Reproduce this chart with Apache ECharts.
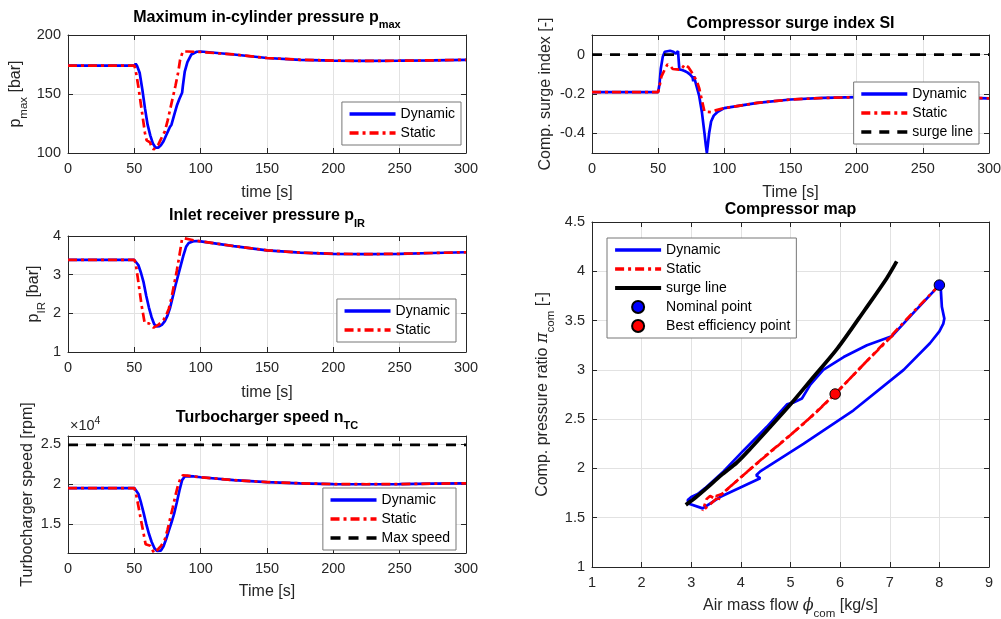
<!DOCTYPE html>
<html><head><meta charset="utf-8">
<script src="https://cdn.jsdelivr.net/npm/echarts@6/dist/echarts.min.js"></script>
<style>html,body{margin:0;padding:0;background:#fff}#c{width:1001px;height:619px}</style>
</head><body><div id="c"></div>
<script>
// ---------------- DATA ----------------
// Panel 1: maximum in-cylinder pressure p_max [bar]
const pmaxDynT = [0, 50, 51, 52, 54, 56, 58, 60, 62, 64, 66, 68, 70, 72, 74, 76, 76.8, 77.4, 78, 80, 82, 84, 86, 86.6, 88, 90, 93, 97, 100, 125, 150, 175, 200, 225, 250, 275, 300];
const pmaxDynV = [174, 174, 175.7, 174, 168, 154, 138, 124, 115, 108, 104.5, 104.5, 106.5, 110, 115, 120, 122, 120.5, 124, 132, 140, 146, 151, 157, 169, 177, 183.5, 185.8, 186, 183.5, 180.5, 179, 178.3, 178, 178.2, 178.5, 179];
const pmaxStaT = [0, 50, 51, 53, 55.5, 58, 59.3, 61.8, 63, 64.5, 66, 68, 69.5, 71, 73, 75, 77, 79, 81, 83, 84.5, 86.5, 90, 95, 100, 125, 150, 175, 200, 225, 250, 275, 300];
const pmaxStaV = [174, 174, 170, 156.5, 136.7, 117, 110.7, 109, 105, 103, 103.5, 107, 110.5, 112, 118.4, 127, 137, 147, 157, 168, 179, 186, 186, 185.8, 185.6, 183.5, 180.5, 179, 178.3, 178, 178.2, 178.5, 179];

// Panel 2: inlet receiver pressure p_IR [bar]
const pirDynT = [0, 50, 51, 53, 55, 57, 59, 61, 63, 65, 67, 69, 71, 73, 75, 77, 79, 81, 83, 85, 87, 89, 91, 94, 97, 100, 125, 150, 175, 200, 225, 250, 275, 300];
const pirDynV = [3.38, 3.38, 3.37, 3.25, 3.05, 2.80, 2.45, 2.15, 1.90, 1.72, 1.66, 1.67, 1.71, 1.80, 1.94, 2.15, 2.43, 2.72, 2.98, 3.24, 3.5, 3.72, 3.82, 3.86, 3.87, 3.86, 3.74, 3.63, 3.57, 3.54, 3.53, 3.54, 3.56, 3.58];
const pirStaT = [0, 50, 51, 53, 55.5, 57.8, 59, 61, 62.5, 64.5, 66, 68, 70, 72, 74, 76, 78, 80, 82, 84, 86, 88, 92, 96, 100, 125, 150, 175, 200, 225, 250, 275, 300];
const pirStaV = [3.38, 3.38, 3.3, 2.82, 2.2, 1.75, 1.73, 1.74, 1.72, 1.63, 1.64, 1.7, 1.76, 1.83, 1.95, 2.12, 2.4, 2.75, 3.1, 3.5, 3.93, 3.94, 3.91, 3.88, 3.86, 3.74, 3.63, 3.57, 3.54, 3.53, 3.54, 3.56, 3.58];

// Panel 3: turbocharger speed n_TC [rpm]
const ntcDynT = [0, 50, 51, 53, 55, 57, 59, 61, 63, 65, 67, 68, 70, 72, 74, 76, 78, 80, 82, 84, 86, 88, 90, 95, 100, 125, 150, 175, 200, 225, 250, 275, 300];
const ntcDynV = [19500, 19500, 19450, 18800, 17700, 16400, 15000, 13800, 12800, 12050, 11650, 11570, 11700, 12250, 13150, 14200, 15200, 16300, 17700, 19200, 20500, 20950, 21000, 20950, 20850, 20500, 20250, 20100, 20000, 19980, 20000, 20050, 20100];
const ntcStaT = [0, 50, 51, 53, 55, 57, 58.5, 60, 62, 63.5, 65, 66.5, 68, 70, 71, 73, 75, 77, 79, 81, 83, 85, 86.5, 90, 95, 100, 125, 150, 175, 200, 225, 250, 275, 300];
const ntcStaV = [19500, 19500, 19000, 17300, 15500, 13800, 12500, 12350, 12300, 11800, 11400, 11450, 11900, 12250, 12400, 13100, 14300, 15700, 17100, 18600, 19900, 20800, 21100, 21050, 20950, 20850, 20500, 20250, 20100, 20000, 19980, 20000, 20050, 20100];
const maxSpeedT = [0, 300];
const maxSpeedV = [24900, 24900];

// Panel 4: compressor surge index SI [-]
const siDynT = [0, 50, 51, 52, 53.5, 55, 56.5, 59, 61.5, 63.3, 65, 65.6, 66, 68, 70, 72, 74, 76, 76.5, 77, 79, 81, 83, 85, 86, 86.8, 87.5, 88.5, 90, 92, 95, 100, 125, 150, 175, 200, 225, 250, 275, 300];
const siDynV = [-0.19, -0.19, -0.15, -0.07, -0.01, 0.015, 0.022, 0.02, 0.015, 0.005, 0.018, 0.015, -0.075, -0.078, -0.083, -0.09, -0.1, -0.115, -0.135, -0.11, -0.16, -0.21, -0.29, -0.4, -0.46, -0.5, -0.46, -0.4, -0.34, -0.31, -0.29, -0.272, -0.245, -0.228, -0.22, -0.216, -0.213, -0.214, -0.218, -0.222];
const siStaT = [0, 50, 51, 52.5, 55, 57, 58, 59.5, 61, 64, 67, 68.5, 70, 71.5, 73, 75, 77, 79, 81, 83, 85, 86.5, 90, 94, 100, 125, 150, 175, 200, 225, 250, 275, 300];
const siStaV = [-0.19, -0.19, -0.16, -0.11, -0.075, -0.05, -0.045, -0.06, -0.073, -0.075, -0.077, -0.065, -0.05, -0.048, -0.065, -0.085, -0.11, -0.13, -0.17, -0.23, -0.29, -0.3, -0.292, -0.282, -0.272, -0.245, -0.228, -0.22, -0.216, -0.213, -0.214, -0.218, -0.222];
const siSurgeT = [0, 300];
const siSurgeV = [0, 0];

// Panel 5: compressor map (air mass flow [kg/s], pressure ratio [-])
const mapDynX = [8.0, 8.03, 8.05, 8.1, 8.08, 8.0, 7.81, 7.28, 6.27, 5.26, 4.39, 4.31, 4.39, 4.26, 3.58, 3.23, 2.94, 2.93, 3.0, 3.13, 3.28, 3.65, 4.05, 4.52, 4.93, 5.07, 5.23, 5.4, 5.66, 6.07, 6.54, 7.04, 7.5, 8.0];
const mapDynY = [3.86, 3.81, 3.64, 3.52, 3.47, 3.39, 3.27, 3.0, 2.59, 2.25, 1.97, 1.93, 1.90, 1.87, 1.71, 1.595, 1.645, 1.68, 1.71, 1.74, 1.80, 1.97, 2.18, 2.42, 2.65, 2.67, 2.71, 2.85, 3.0, 3.13, 3.25, 3.34, 3.59, 3.86];
// static trajectory: load-down pass and load-up pass
const mapStaDownX = [8.0, 7.5, 7.0, 6.5, 5.9, 5.3, 4.7, 4.2, 3.8, 3.62, 3.5, 3.58, 3.45, 3.38, 3.31, 3.23];
const mapStaDownY = [3.86, 3.6, 3.33, 3.07, 2.755, 2.47, 2.21, 1.998, 1.822, 1.74, 1.72, 1.69, 1.70, 1.72, 1.69, 1.57];
const mapStaUpX = [3.23, 3.5, 4.0, 4.5, 5.0, 5.5, 5.9, 6.5, 7.1];
const mapStaUpY = [1.57, 1.69, 1.91, 2.13, 2.34, 2.56, 2.755, 3.07, 3.37];
const mapSurgeX = [2.89, 3.1, 3.31, 3.6, 3.92, 4.19, 4.59, 5.0, 5.4, 5.95, 6.5, 6.94, 7.14];
const mapSurgeY = [1.63, 1.71, 1.80, 1.93, 2.06, 2.2, 2.42, 2.65, 2.89, 3.22, 3.61, 3.93, 4.1];
const nominalPoint = [8.0, 3.86];
const bestEffPoint = [5.9, 2.755];

// ---------------- CHART ----------------
const FF = '"Liberation Sans", Arial, Helvetica, sans-serif';
const AX = '#262626';
const GRIDC = '#e2e2e2';
const BLUE = '#0000ff', RED = '#ff0000', BLACK = '#000000';
const DASHDOT = [9, 4, 3, 4];
const DASH = [10, 8];
const LW = 2.7;

function pts(xs, ys) { return xs.map((x, i) => [x, ys[i]]); }

const gridBoxes = [
  {left: 68, top: 35, width: 398, height: 118},
  {left: 68, top: 236, width: 398, height: 116},
  {left: 68, top: 436, width: 398, height: 117},
  {left: 592, top: 35, width: 397, height: 118},
  {left: 592, top: 222, width: 397, height: 345}
];
const grids = gridBoxes.map(g => Object.assign({show: false, containLabel: false, outerBoundsMode: 'none'}, g));

const nameRich = {
  m: {fontSize: 16, color: AX, fontFamily: FF, verticalAlign: 'top'},
  s: {fontSize: 11.5, color: AX, fontFamily: FF, verticalAlign: 'top', padding: [10, 0, 0, 0]},
  g: {fontSize: 16, color: AX, fontFamily: '"DejaVu Serif", serif', fontStyle: 'italic', verticalAlign: 'top'}
};
const nameStyle = {fontSize: 16, color: AX, fontFamily: FF, rich: nameRich};

const xAxes = [], yAxes = [];
function addAxes(gi, xc, yc) {
  const lineCfg = {show: true, onZero: false, lineStyle: {color: AX, width: 1}};
  const tickCfg = {show: true, inside: true, length: 5, lineStyle: {color: AX, width: 1}};
  const lab = {color: AX, fontSize: 14.5, fontFamily: FF};
  const base = c => {
    const o = {type: 'value', gridIndex: gi, min: c.min, max: c.max};
    if (c.interval != null) o.interval = c.interval;
    if (c.splitNumber != null) o.splitNumber = c.splitNumber;
    return o;
  };
  xAxes.push(Object.assign(base(xc), {
    position: 'bottom', axisLine: lineCfg, axisTick: tickCfg,
    axisLabel: Object.assign({margin: 8, showMinLabel: true, showMaxLabel: true}, lab),
    splitLine: {show: true, lineStyle: {color: GRIDC, width: 1}},
    name: xc.name, nameLocation: 'middle', nameGap: xc.gap, nameTextStyle: nameStyle, nameMoveOverlap: false
  }));
  xAxes.push(Object.assign(base(xc), {
    position: 'top', axisLine: lineCfg, axisTick: tickCfg, axisLabel: {show: false}, splitLine: {show: false}
  }));
  const yl = Object.assign({margin: 7, showMinLabel: yc.showEnds, showMaxLabel: yc.showEnds}, lab);
  if (yc.fmt) yl.formatter = yc.fmt;
  yAxes.push(Object.assign(base(yc), {
    position: 'left', axisLine: lineCfg, axisTick: tickCfg, axisLabel: yl,
    splitLine: {show: true, lineStyle: {color: GRIDC, width: 1}},
    name: yc.name, nameLocation: 'middle', nameRotate: 90, nameGap: yc.gap, nameTextStyle: nameStyle, nameMoveOverlap: false
  }));
  yAxes.push(Object.assign(base(yc), {
    position: 'right', axisLine: lineCfg, axisTick: tickCfg, axisLabel: {show: false}, splitLine: {show: false}
  }));
}

addAxes(0, {min: 0, max: 300, interval: 50, name: '{m|time [s]}', gap: 32},
           {min: 100, max: 200, interval: 50, showEnds: true, name: '{m|p}{s|max}{m| [bar]}', gap: 38});
addAxes(1, {min: 0, max: 300, interval: 50, name: '{m|time [s]}', gap: 33},
           {min: 1, max: 4, interval: 1, showEnds: true, name: '{m|p}{s|IR}{m| [bar]}', gap: 20});
addAxes(2, {min: 0, max: 300, interval: 50, name: '{m|Time [s]}', gap: 31},
           {min: 11400, max: 26000, splitNumber: 3, showEnds: false, fmt: v => String(+(v / 10000).toFixed(2)), name: '{m|Turbocharger speed [rpm]}', gap: 32});
addAxes(3, {min: 0, max: 300, interval: 50, name: '{m|Time [s]}', gap: 32},
           {min: -0.5, max: 0.1, splitNumber: 3, showEnds: false, fmt: v => String(+v.toFixed(2)), name: '{m|Comp. surge index [-]}', gap: 38});
addAxes(4, {min: 1, max: 9, interval: 1, name: '{m|Air mass flow }{g|ϕ}{s|com}{m| [kg/s]}', gap: 31},
           {min: 1, max: 4.5, interval: 0.5, showEnds: true, name: '{m|Comp. pressure ratio }{g|π}{s|com}{m| [-]}', gap: 35});

function line(name, gi, data, color, width, type, extra) {
  return Object.assign({type: 'line', name, xAxisIndex: 2 * gi, yAxisIndex: 2 * gi, data, symbol: 'none', showSymbol: false,
          lineStyle: {color, width, type}, itemStyle: {color}, silent: true, animation: false}, extra || {});
}
function dot(name, gi, p, color) {
  return {type: 'scatter', name, xAxisIndex: 2 * gi, yAxisIndex: 2 * gi, data: [p], symbol: 'circle', symbolSize: 10.5,
          itemStyle: {color, borderColor: '#000', borderWidth: 1, opacity: 1}, silent: true, animation: false, z: 5};
}

const series = [
  line('Dynamic', 0, pts(pmaxDynT, pmaxDynV), BLUE, LW, 'solid'),
  line('Static', 0, pts(pmaxStaT, pmaxStaV), RED, LW, DASHDOT),
  line('Dynamic', 1, pts(pirDynT, pirDynV), BLUE, LW, 'solid'),
  line('Static', 1, pts(pirStaT, pirStaV), RED, LW, DASHDOT),
  line('Dynamic', 2, pts(ntcDynT, ntcDynV), BLUE, LW, 'solid'),
  line('Static', 2, pts(ntcStaT, ntcStaV), RED, LW, DASHDOT),
  line('Max speed', 2, pts(maxSpeedT, maxSpeedV), BLACK, LW, DASH),
  line('Dynamic', 3, pts(siDynT, siDynV), BLUE, LW, 'solid'),
  line('Static', 3, pts(siStaT, siStaV), RED, LW, DASHDOT),
  line('surge line', 3, pts(siSurgeT, siSurgeV), BLACK, LW, DASH),
  line('Dynamic', 4, pts(mapDynX, mapDynY), BLUE, LW, 'solid'),
  line('Static', 4, pts(mapStaDownX, mapStaDownY), RED, LW, DASHDOT),
  line('Static', 4, pts(mapStaUpX, mapStaUpY), RED, LW, DASHDOT, {lineStyle: {color: RED, width: LW, type: DASHDOT, dashOffset: 10}}),
  line('surge line', 4, pts(mapSurgeX, mapSurgeY), BLACK, 3.8, 'solid', {smooth: 0.3}),
  dot('Nominal point', 4, nominalPoint, BLUE),
  dot('Best efficiency point', 4, bestEffPoint, RED)
];

const legendBase = {
  orient: 'vertical', align: 'left', itemWidth: 46, itemHeight: 12, itemGap: 5, padding: [5, 6, 5, 6],
  backgroundColor: '#fff', borderColor: '#777', borderWidth: 1, borderRadius: 0, selectedMode: false,
  textStyle: {fontSize: 14, color: '#000', fontFamily: FF}, itemStyle: {opacity: 0}, lineStyle: {width: 3.3}
};
const legends = [
  Object.assign({}, legendBase, {right: 540, top: 102, data: ['Dynamic', 'Static']}),
  Object.assign({}, legendBase, {right: 545, top: 299, data: ['Dynamic', 'Static']}),
  Object.assign({}, legendBase, {right: 545, top: 488, data: ['Dynamic', 'Static', 'Max speed']}),
  Object.assign({}, legendBase, {right: 22, top: 82, data: ['Dynamic', 'Static', 'surge line']}),
  Object.assign({}, legendBase, {left: 607, top: 238, data: [
    'Dynamic', 'Static',
    {name: 'surge line', lineStyle: {type: 'solid', width: 4.2, color: '#000'}},
    {name: 'Nominal point', itemStyle: {opacity: 1}},
    {name: 'Best efficiency point', itemStyle: {opacity: 1}}
  ]})
];

const titleRich = {
  m: {fontSize: 16, fontWeight: 'bold', color: '#000', fontFamily: FF, verticalAlign: 'top'},
  s: {fontSize: 11, fontWeight: 'bold', color: '#000', fontFamily: FF, verticalAlign: 'top', padding: [10, 0, 0, 0]}
};
function ttl(text, cx, top) {
  return {text, left: cx, top, textAlign: 'center', padding: 0, textStyle: {rich: titleRich, fontSize: 16, fontFamily: FF}};
}
const titles = [
  ttl('{m|Maximum in-cylinder pressure p}{s|max}', 267, 9.5),
  ttl('{m|Inlet receiver pressure p}{s|IR}', 267, 208),
  ttl('{m|Turbocharger speed n}{s|TC}', 267, 410),
  ttl('{m|Compressor surge index SI}', 790.5, 15.5),
  ttl('{m|Compressor map}', 790.5, 202)
];

const chart = echarts.init(document.getElementById('c'), null, {renderer: 'canvas'});
chart.setOption({
  animation: false,
  backgroundColor: '#fff',
  title: titles,
  grid: grids,
  xAxis: xAxes,
  yAxis: yAxes,
  legend: legends,
  series: series,
  graphic: [{
    type: 'text', left: 70, top: 416, silent: true,
    style: {
      text: '{a|×10}{b|4}', fill: AX,
      rich: {
        a: {fontSize: 14.5, fontFamily: FF, fill: AX, verticalAlign: 'top', padding: [4, 0, 0, 0]},
        b: {fontSize: 10.5, fontFamily: FF, fill: AX, verticalAlign: 'top', padding: [2, 0, 0, 0]}
      }
    }
  }]
});
</script>
</body></html>
